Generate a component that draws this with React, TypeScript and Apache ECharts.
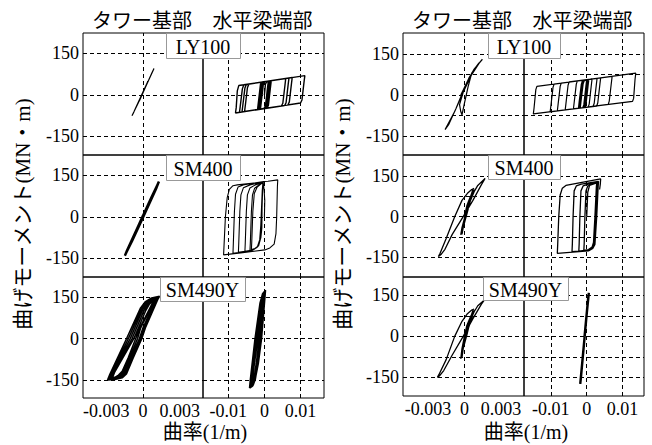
import React, { useEffect, useRef } from 'react';
import * as echarts from 'echarts';

const SERIF = "Liberation Serif";
const MIXED = "'Liberation Serif', 'Noto Sans CJK JP', serif";
const CJK = "'Noto Sans CJK JP', sans-serif";

// ---- text / categories ----
const materials = ['LY100', 'SM400', 'SM490Y'];
const partNames = ['タワー基部', '水平梁端部'];
const yAxisName = '曲げモーメント(MN・m)';
const xAxisName = '曲率(1/m)';

// ---- tick labels / grid values ----
const yTickLabels = [-150, 0, 150];
const towerTickLabels = [-0.003, 0, 0.003];
const beamTickLabels = [-0.01, 0, 0.01];
const gridLinesYLeft = [-150, 0, 150];
const gridLinesYRight = [-150, -75, 0, 75, 150];

// ---- left figure: curvature (1/m), moment (MN·m) ----
const ly100TowerLeft = [
  [-0.0001, 0], [0.0003, 38], [0.0009, 96], [0.00075, 82], [0.0002, 28], [-0.0004, -30],
  [-0.0009, -75], [-0.00075, -62], [-0.0002, -8], [0.0004, 50], [0.0003, 38], [-0.0003, -22], [-0.0001, 0],
];
const ly100BeamLeft = [
  [0, 0], [0.0003, 40], [0.0008, 49], [0.0018, 52],
  [0.0016, 30], [0.001, -38], [0.0006, -48], [-0.0018, -53],
  [-0.0016, -30], [-0.001, 38], [-0.0006, 47], [0.0016, 51],
  [0.0014, 30], [0.0008, -38], [0.0004, -48], [-0.0016, -52],
  [-0.0014, -30], [-0.0008, 38], [-0.0004, 47], [0.0014, 51],
  [0.0012, 30], [0.0006, -38], [0.0002, -48], [-0.0014, -52],
  [-0.0012, -30], [-0.0006, 38], [-0.0002, 47], [0.0012, 50],
  [0.001, 30], [0.0004, -38], [0, -49], [-0.0012, -51],
  [-0.001, -30], [-0.0004, 38], [0, 48], [0.0017, 51],
  [0.0015, 30], [0.0009, -38], [0.0005, -48], [-0.0017, -52],
  [-0.0015, -30], [-0.0009, 38], [-0.0005, 47], [0.0015, 51],
  [0.0013, 30], [0.0007, -38], [0.0003, -48], [-0.0015, -52],
  [-0.0013, -30], [-0.0007, 38], [-0.0003, 47], [0.0013, 50],
  [0.0011, 30], [0.0005, -38], [0.0001, -48], [-0.0013, -51],
  [-0.0011, -30], [-0.0005, 38], [-0.0001, 47], [0.0011, 50],
  [0.0009, 30], [0.0003, -38], [-0.0001, -49], [-0.0011, -51],
  [-0.0009, -30], [-0.0003, 38], [0.0001, 48], [0.0019, 52],
  [0.0017, 30], [0.0011, -38], [0.0007, -48], [-0.0019, -53],
  [-0.0017, -30], [-0.0011, 38], [-0.0007, 47], [0.0059, 59],
  [0.0057, 36], [0.0051, -30], [0.0047, -40], [-0.0062, -61],
  [-0.006, -40], [-0.0054, 25], [-0.005, 38], [0.0068, 61],
  [0.0066, 40], [0.006, -28], [0.0056, -38], [-0.0069, -63],
  [-0.0067, -42], [-0.0061, 22], [-0.0057, 37], [0.0077, 63],
  [0.0075, 42], [0.0069, -25], [0.0065, -36], [-0.0055, -60],
  [-0.0053, -40], [-0.0047, 26], [-0.0043, 39], [0.0112, 70],
  [0.011, 50], [0.0104, -18], [0.01, -29], [-0.008, -65],
  [-0.0078, -45], [-0.0075, 15], [-0.0071, 34], [0.0005, 49],
];
const sm400TowerLeft = [
  [0, 0], [0.0005, 50], [0.0013, 128], [0.0011, 105], [0.0001, 8], [-0.0008, -75],
  [-0.00148, -140], [-0.0013, -120], [-0.0002, -15], [0.0007, 72], [0.0012, 118],
  [0.001, 96], [0, -2], [-0.0009, -88], [-0.0014, -132], [-0.0012, -112], [0, 5],
];
const sm400BeamLeft = [
  [0, 0], [0.0001, 60], [-0.0001, 100], [-0.0003, 122],
  [-0.0005, 95], [-0.0008, -30], [-0.0011, -80], [-0.0017, -105], [-0.0028, -116], [-0.004, -122],
  [-0.0039, -95], [-0.0036, 20], [-0.0033, 80], [-0.0027, 104], [-0.0015, 116], [-0.0003, 124],
  [-0.0005, 95], [-0.0009, -30], [-0.0012, -80], [-0.0018, -106], [-0.003, -118], [-0.0054, -125],
  [-0.0053, -95], [-0.005, 20], [-0.0047, 80], [-0.004, 105], [-0.0025, 116], [-0.0003, 126],
  [-0.0006, 95], [-0.0009, -30], [-0.0012, -82], [-0.0019, -108], [-0.0032, -120], [-0.0072, -128],
  [-0.0071, -95], [-0.0068, 20], [-0.0065, 80], [-0.0058, 106], [-0.004, 116], [-0.0003, 127],
  [-0.0006, 95], [-0.001, -30], [-0.0013, -82], [-0.002, -110], [-0.0035, -122], [-0.0087, -131],
  [-0.0086, -95], [-0.0083, 20], [-0.008, 82], [-0.0073, 108], [-0.0055, 117], [-0.0002, 128],
  [0.001, 129], [0.0037, 134],
  [0.0036, 110], [0.0034, 0], [0.0032, -60], [0.0027, -98], [0.0015, -112], [0.0001, -119], [-0.006, -129], [-0.0113, -137],
  [-0.0112, -110], [-0.0108, 0], [-0.0103, 70], [-0.0097, 100], [-0.0087, 113], [-0.0075, 116], [-0.0004, 126],
  [-0.0006, 95], [-0.0008, -40], [-0.0011, -80], [-0.0016, -104], [-0.0026, -114], [-0.0036, -118],
  [-0.0035, -90], [-0.0032, 20], [-0.0028, 85], [-0.002, 108], [-0.0004, 125],
  [-0.0006, 95], [-0.0007, -40], [-0.001, -78],
];
const sm490yTowerLeft = [
  [-0.0029, -150], [-0.0027, -128], [-0.00135, 0], [-0.0002, 112], [0.0002, 135], [0.0007, 148], [0.00135, 154],
  [0.0012, 142], [0.0002, 40], [-0.0001, 0], [-0.0008, -70], [-0.00135, -128], [-0.0017, -142], [-0.0023, -148], [-0.0029, -150],
  [-0.0028, -148], [-0.0026, -126], [-0.0012, 0], [-0.0001, 110], [0.0003, 133], [0.0007, 146], [0.0012, 151],
  [0.0011, 140], [0.0001, 40], [-0.0002, 0], [-0.0009, -70], [-0.0014, -125], [-0.0018, -140], [-0.0023, -146], [-0.0028, -148],
  [-0.0027, -146], [-0.0025, -124], [-0.00105, 0], [0, 108], [0.0004, 130], [0.0007, 143], [0.0011, 148],
  [0.001, 138], [0, 40], [-0.0003, 0], [-0.001, -70], [-0.0015, -122], [-0.0019, -137], [-0.0023, -144], [-0.0027, -146],
  [-0.0026, -144], [-0.0024, -122], [-0.0009, 0], [0.0001, 104], [0.0005, 127], [0.0008, 140], [0.001, 145],
  [0.0009, 135], [-0.0002, 38], [-0.00045, 0], [-0.0011, -70], [-0.0016, -120], [-0.0019, -134], [-0.0023, -142], [-0.0026, -144],
  [-0.0025, -142], [-0.0023, -120], [-0.00075, 0], [0.0002, 100], [0.0005, 124], [0.0008, 137], [0.0009, 142],
  [0.0008, 132], [-0.0003, 36], [-0.0006, 0], [-0.0012, -68], [-0.0017, -118], [-0.002, -132], [-0.0023, -140], [-0.0025, -142],
];
const sm490yBeamLeft = [
  [-0.0041, -179], [-0.0039, -150], [-0.0026, 0], [-0.0012, 130], [-0.0005, 163], [0.0003, 176],
  [0.0002, 160], [-0.0003, 80], [-0.0008, 0], [-0.0017, -90], [-0.0026, -150], [-0.0033, -172], [-0.0041, -179],
  [-0.0038, -170], [-0.0036, -142], [-0.0024, 0], [-0.0011, 125], [-0.0005, 158], [0.0001, 170],
  [0, 155], [-0.0005, 80], [-0.001, 0], [-0.0019, -90], [-0.0026, -145], [-0.0031, -163], [-0.0038, -170],
  [-0.0036, -162], [-0.0034, -135], [-0.0022, 0], [-0.001, 120], [-0.0005, 152], [-0.0001, 164],
  [-0.0002, 150], [-0.0007, 75], [-0.0012, 0], [-0.002, -90], [-0.0027, -140], [-0.0031, -156], [-0.0036, -162],
  [-0.0033, -150], [-0.0031, -125], [-0.002, 0], [-0.0009, 115], [-0.0005, 145], [-0.0002, 158],
  [-0.0003, 145], [-0.0008, 70], [-0.0014, 0], [-0.0022, -85], [-0.0027, -130], [-0.003, -145], [-0.0033, -150],
  [-0.0039, -175], [-0.0037, -146], [-0.0025, 0], [-0.0011, 128], [-0.0004, 163], [0.0002, 173],
  [0.0001, 158], [-0.0004, 78], [-0.0009, 0], [-0.0018, -90], [-0.0025, -146], [-0.0031, -168], [-0.0039, -175],
  [-0.0035, -160], [-0.0032, -130], [-0.0018, 0], [-0.0008, 118], [-0.0004, 150], [0, 166],
  [-0.0001, 150], [-0.0006, 70], [-0.0011, 0], [-0.0019, -85], [-0.0025, -135], [-0.003, -152], [-0.0035, -160],
];

// ---- right figure ----
const ly100TowerRight = [
  [-0.0003, 0], [0.0003, 55], [0.0008, 95], [0.00148, 131],
  [0.0012, 116], [0.0006, 75], [-0.0001, 10], [-0.0008, -60], [-0.00159, -126],
  [-0.0013, -108], [-0.0007, -50], [-0.0001, 15], [0.0004, 65], [0.0009, 100], [0.0012, 118],
  [0.001, 106], [0.0006, 80], [0.0003, 30], [0, -30], [-0.0002, -72],
  [-0.0003, -60], [-0.0004, -35], [-0.0001, 10], [0.0003, 50],
];
const ly100BeamRight = [
  [0, 0], [0.0003, 40], [0.0006, 57],
  [0.0004, 35], [-0.0002, -35], [-0.0005, -45], [-0.0023, -48], [-0.0021, -25], [-0.0015, 40], [-0.0012, 52], [0.0004, 56],
  [0.0002, 35], [-0.0004, -35], [-0.0007, -45], [-0.0021, -48], [-0.0019, -25], [-0.0013, 40], [-0.001, 52], [0.0002, 56],
  [0, 35], [-0.0006, -35], [-0.0009, -46], [-0.0019, -48], [-0.0017, -25], [-0.0011, 40], [-0.0008, 52], [0, 56],
  [-0.0002, 35], [-0.0008, -35], [-0.0011, -46], [-0.0022, -48], [-0.002, -25], [-0.0014, 40], [-0.0011, 52], [0.0005, 57],
  [0.0003, 35], [-0.0003, -35], [-0.0006, -45], [-0.002, -48], [-0.0018, -25], [-0.0012, 40], [-0.0009, 52], [0.0003, 56],
  [0.0001, 35], [-0.0005, -35], [-0.0008, -45], [-0.0018, -48], [-0.0016, -25], [-0.001, 40], [-0.0007, 52], [0.0001, 56],
  [0.0015, 59], [0.0013, 37], [0.0007, -33], [0.0004, -44], [-0.0037, -50], [-0.0035, -28], [-0.0029, 40], [-0.0026, 52],
  [0.0029, 61], [0.0027, 39], [0.0021, -30], [0.0018, -41], [-0.006, -54], [-0.0058, -32], [-0.0052, 36], [-0.0049, 48],
  [0.0039, 63], [0.0037, 41], [0.0031, -28], [0.0028, -40], [-0.0082, -58], [-0.008, -36], [-0.0074, 32], [-0.0071, 44],
  [0.0071, 68], [0.0069, 46], [0.0063, -22], [0.006, -34], [-0.0102, -61], [-0.01, -40], [-0.0094, 28], [-0.0091, 40],
  [0.0137, 80], [0.0135, 58], [0.0131, -12], [0.0128, -23], [-0.0149, -69], [-0.0147, -48], [-0.0142, 20], [-0.0139, 32], [0, 56],
];
const sm400TowerRight = [
  [0, 0], [0.0002, 40], [0.0005, 75], [0.0008, 100],
  [0.0006, 75], [0.0002, 15], [-0.0001, -35], [-0.0003, -67],
  [-0.0002, -40], [0.0001, 10], [0.0004, 60], [0.0007, 100],
  [0.0005, 70], [0.0001, 10], [-0.0001, -35], [-0.0002, -65],
  [-0.0001, -40], [0.0002, 10], [0.0005, 60], [0.0008, 92], [0.0011, 115], [0.0017, 141],
  [0.0014, 118], [0.0007, 60], [-0.0001, 0], [-0.001, -65], [-0.0016, -120], [-0.0019, -138], [-0.00214, -147],
  [-0.002, -135], [-0.0015, -80], [-0.0008, 0], [-0.0002, 60], [0.00025, 86], [0.0006, 100], [0.0008, 104],
];
const sm400BeamRight = [
  [0, 0], [0.0003, 90], [0.0008, 115], [0.0028, 124],
  [0.0027, 110], [0.0023, 0], [0.0019, -95], [0.0015, -112], [0.0005, -121], [-0.0008, -124],
  [-0.0007, -100], [-0.0005, 0], [-0.0002, 95], [0.0003, 113], [0.0015, 120], [0.0029, 126],
  [0.0028, 110], [0.0024, 0], [0.002, -98], [0.0016, -113], [0.0005, -122], [-0.0022, -127],
  [-0.0021, -100], [-0.0019, 0], [-0.0016, 95], [-0.001, 113], [0.0005, 120], [0.0031, 128],
  [0.003, 110], [0.0026, 0], [0.0021, -100], [0.0016, -115], [0.0005, -124], [-0.0041, -129],
  [-0.004, -100], [-0.0038, 0], [-0.0035, 95], [-0.0029, 113], [-0.0015, 120], [0.0033, 130],
  [0.0032, 110], [0.0028, 0], [0.0023, -102], [0.0017, -117], [0.0005, -126], [-0.0082, -135],
  [-0.0081, -105], [-0.0078, 0], [-0.0074, 80], [-0.0068, 105], [-0.0058, 115], [0.0039, 139],
  [0.0038, 120], [0.0036, 100],
];
const sm490yTowerRight = [
  [0, 0], [0.0002, 40], [0.0005, 72], [0.0008, 95],
  [0.0006, 65], [0.0001, 0], [-0.0002, -45], [-0.0003, -82],
  [-0.0002, -50], [0.0001, 5], [0.0004, 55], [0.0007, 95],
  [0.0005, 60], [0, 0], [-0.0002, -45], [-0.0002, -78],
  [-0.0001, -45], [0.0002, 5], [0.0005, 60], [0.0008, 90], [0.0011, 112], [0.00162, 132],
  [0.0014, 118], [0.0007, 65], [-0.0001, 0], [-0.001, -68], [-0.0017, -125], [-0.002, -142], [-0.00222, -150],
  [-0.0021, -140], [-0.0015, -85], [-0.0008, 0], [-0.0002, 55], [0.00025, 83], [0.0006, 96], [0.0008, 100],
];
const sm490yBeamRight = [
  [-0.0006, 0], [0, 80], [0.0006, 159], [0.0004, 140], [-0.0005, 10], [-0.0012, -90], [-0.0018, -174],
  [-0.0016, -150], [-0.0007, -20], [0.0001, 95], [0.0005, 150], [0.0003, 125], [-0.0006, 0],
];

// ---- layout (pixels) ----
const panels = [
  {
    tower: { left: 83, width: 120, min: -0.0049, max: 0.0049 },
    beam: { left: 203, width: 121, min: -0.017, max: 0.0165 },
    rows: [
      { top: 33, height: 122, min: -217, max: 224 },
      { top: 155, height: 122, min: -217, max: 224 },
      { top: 277, height: 121, min: -215, max: 224 },
    ],
    gridY: gridLinesYLeft,
    data: [[ly100TowerLeft, ly100BeamLeft], [sm400TowerLeft, sm400BeamLeft], [sm490yTowerLeft, sm490yBeamLeft]],
    widths: [[1.2, 1.4], [2.4, 1.1], [1.5, 1.6]],
    boxes: [[166, 33, 74, 25], [166, 155, 74, 25], [160, 277, 85, 24]],
    titleX: [142, 262.5],
    yNameX: 23,
    xNameX: 205,
  },
  {
    tower: { left: 403, width: 121, min: -0.00505, max: 0.0049 },
    beam: { left: 524, width: 120, min: -0.0175, max: 0.016 },
    rows: [
      { top: 33, height: 122, min: -219, max: 227 },
      { top: 155, height: 122, min: -222, max: 227 },
      { top: 277, height: 119, min: -218, max: 217 },
    ],
    gridY: gridLinesYRight,
    data: [[ly100TowerRight, ly100BeamRight], [sm400TowerRight, sm400BeamRight], [sm490yTowerRight, sm490yBeamRight]],
    widths: [[1.2, 1.2], [1.3, 1.3], [1.3, 2.4]],
    boxes: [[488, 33, 72, 25], [488, 155, 72, 24], [483, 277, 85, 23]],
    titleX: [462, 582.5],
    yNameX: 343,
    xNameX: 526,
  },
];

const tickLabelStyle = (show: boolean, values: number[]) => ({
  show,
  customValues: values,
  formatter: (v: number) => `{t|${String(v)}}`,
  rich: { t: { fontFamily: SERIF, fontSize: 18, color: '#000' } },
  fontFamily: SERIF,
  fontSize: 18,
  color: '#000',
  margin: 4,
});

function buildOption() {
  const grid: any[] = [];
  const xAxis: any[] = [];
  const yAxis: any[] = [];
  const series: any[] = [];
  const graphic: any[] = [];

  panels.forEach((p) => {
    p.rows.forEach((r, ri) => {
      [p.tower, p.beam].forEach((col, pi) => {
        const idx = grid.length;
        const isBottom = ri === p.rows.length - 1;
        const xTicks = pi === 0 ? towerTickLabels : beamTickLabels;
        grid.push({
          left: col.left, top: r.top, width: col.width, height: r.height,
          show: true, borderColor: '#000', borderWidth: 1, backgroundColor: 'transparent',
        });
        xAxis.push({
          type: 'value', gridIndex: idx, min: col.min, max: col.max,
          splitLine: { show: false }, axisLine: { show: false }, axisTick: { show: false },
          axisLabel: tickLabelStyle(isBottom, xTicks),
        });
        yAxis.push({
          type: 'value', gridIndex: idx, min: r.min, max: r.max,
          splitLine: { show: false }, axisLine: { show: false }, axisTick: { show: false },
          axisLabel: tickLabelStyle(pi === 0, yTickLabels),
        });
        series.push({
          type: 'line', xAxisIndex: idx, yAxisIndex: idx,
          data: p.data[ri][pi], showSymbol: false, symbol: 'none', clip: true,
          lineStyle: { color: '#000', width: p.widths[ri][pi] },
          emphasis: { disabled: true },
          markLine: {
            silent: true, symbol: ['none', 'none'], label: { show: false }, animation: false,
            emphasis: { disabled: true },
            lineStyle: { color: '#000', width: 1, type: [4, 3] },
            data: [
              ...xTicks.map((v) => ({ xAxis: v })),
              ...p.gridY.map((v) => ({ yAxis: v })),
            ],
          },
        });
      });
      const b = p.boxes[ri];
      graphic.push({
        type: 'rect', z: 100, shape: { x: b[0] + 0.5, y: b[1] + 0.5, width: b[2], height: b[3] },
        style: { fill: '#fff', stroke: '#999', lineWidth: 1 },
      });
      graphic.push({
        type: 'text', z: 101, x: b[0] + b[2] / 2, y: b[1] + b[3] / 2 + 1,
        style: { text: materials[ri], fontFamily: SERIF, fontSize: 20, fill: '#000', align: 'center', verticalAlign: 'middle' },
      });
    });
    partNames.forEach((name, i) => {
      graphic.push({
        type: 'text', z: 101, x: p.titleX[i], y: 19,
        style: { text: name, fontFamily: CJK, fontSize: 20, fill: '#000', align: 'center', verticalAlign: 'middle' },
      });
    });
    graphic.push({
      type: 'text', z: 101, x: p.yNameX, y: 214, rotation: Math.PI / 2,
      style: { text: yAxisName, fontFamily: MIXED, fontSize: 21, fill: '#000', align: 'center', verticalAlign: 'middle' },
    });
    graphic.push({
      type: 'text', z: 101, x: p.xNameX, y: 432,
      style: { text: xAxisName, fontFamily: MIXED, fontSize: 20, fill: '#000', align: 'center', verticalAlign: 'middle' },
    });
  });

  return {
    animation: false,
    backgroundColor: '#fff',
    textStyle: { fontFamily: SERIF, color: '#000' },
    grid, xAxis, yAxis, series, graphic,
  };
}

export default function App() {
  const ref = useRef<HTMLDivElement>(null);
  useEffect(() => {
    if (!ref.current) return;
    const chart = echarts.init(ref.current, null, { renderer: 'svg' });
    chart.setOption(buildOption() as any);
    return () => chart.dispose();
  }, []);
  return (
    <div
      ref={ref}
      style={{ position: 'fixed', left: 0, top: 0, width: 652, height: 445, background: '#fff' }}
    />
  );
}
